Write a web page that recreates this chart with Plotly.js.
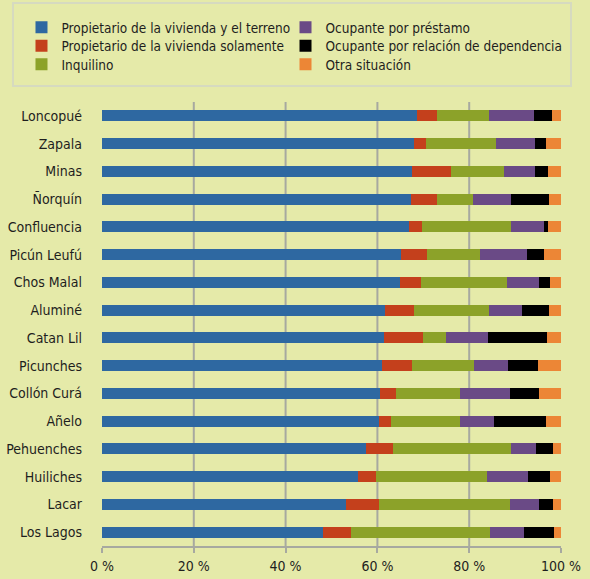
<!DOCTYPE html>
<html>
<head>
<meta charset="utf-8">
<script src="https://cdn.plot.ly/plotly-3.0.1.min.js"></script>
<style>
  html, body { margin: 0; padding: 0; background: #e5eaa9; }
  #chart { width: 590px; height: 579px; }
</style>
</head>
<body>
<div id="chart"></div>
<script>
// ---- Data (percent of households by tenure, per department) ----
const districts = ["Loncopué", "Zapala", "Minas", "Ñorquín", "Confluencia", "Picún Leufú",
  "Chos Malal", "Aluminé", "Catan Lil", "Picunches", "Collón Curá", "Añelo",
  "Pehuenches", "Huiliches", "Lacar", "Los Lagos"];

const propTerreno   = [68.6, 68.0, 67.5, 67.3, 66.9, 65.1, 65.0, 61.7, 61.4, 60.9, 60.6, 60.3, 57.5, 55.8, 53.1, 48.1];
const propSolamente = [ 4.4,  2.6,  8.5,  5.7,  2.8,  5.8,  4.5,  6.3,  8.5,  6.6,  3.5,  2.7,  5.8,  4.0,  7.2,  6.1];
const inquilino     = [11.4, 15.2, 11.6,  7.8, 19.5, 11.5, 18.8, 16.3,  5.0, 13.6, 13.9, 15.1, 25.8, 24.1, 28.6, 30.3];
const prestamo      = [ 9.8,  8.5,  6.7,  8.2,  7.2, 10.2,  6.9,  7.2,  9.1,  7.4, 10.9,  7.4,  5.5,  9.0,  6.4,  7.4];
const dependencia   = [ 3.8,  2.4,  2.9,  8.4,  0.8,  3.6,  2.3,  5.9, 13.0,  6.4,  6.3, 11.2,  3.7,  4.6,  3.0,  6.6];
const otra          = [ 2.0,  3.3,  2.8,  2.6,  2.8,  3.8,  2.5,  2.6,  3.0,  5.1,  4.8,  3.3,  1.7,  2.5,  1.7,  1.5];

const seriesNames = [
  "Propietario de la vivienda y el terreno",
  "Propietario de la vivienda solamente",
  "Inquilino",
  "Ocupante por préstamo",
  "Ocupante por relación de dependencia",
  "Otra situación"
];

const tickVals   = [0, 20, 40, 60, 80, 100];
const tickLabels = ["0 %", "20 %", "40 %", "60 %", "80 %", "100 %"];
const gridVals   = [20, 40, 60, 80];

// ---- Styling ----
const colors = ["#2e68a1", "#c4401c", "#8ca229", "#6a4a86", "#000000", "#ec8636"];
const legendIds = ["legend", "legend2", "legend3", "legend4", "legend5", "legend6"];
const legendX = [-0.1754, -0.1754, -0.1754, 0.3998, 0.3998, 0.3998];
const legendY = [1.1678, 1.1261, 1.0845, 1.1678, 1.1261, 1.0845];
const FONT = '"DejaVu Sans Condensed", "Liberation Sans Narrow", sans-serif';
const FS = 14;
const BG = "#e5eaa9";
const GRID = "#a7a9a0";
const TXT = "#1e1e1e";

const seriesValues = [propTerreno, propSolamente, inquilino, prestamo, dependencia, otra];

const traces = seriesValues.map((vals, i) => ({
  type: "bar",
  orientation: "h",
  name: seriesNames[i],
  x: vals,
  y: districts,
  width: 0.4,
  marker: { color: colors[i], line: { width: 0 } },
  legend: legendIds[i],
  hoverinfo: "name+x"
}));

const layout = {
  width: 590,
  height: 579,
  paper_bgcolor: BG,
  plot_bgcolor: BG,
  margin: { l: 102, r: 29, t: 102, b: 33 },
  barmode: "stack",
  font: { family: FONT, size: FS, color: TXT },
  showlegend: true,
  xaxis: {
    range: [0, 100],
    tickvals: tickVals,
    ticktext: tickLabels,
    showgrid: false,
    zeroline: false,
    showline: true,
    linecolor: GRID,
    linewidth: 2,
    ticks: "outside",
    ticklen: 5,
    tickwidth: 2,
    tickcolor: GRID,
    ticklabelstandoff: 1,
    tickfont: { family: FONT, size: FS, color: TXT },
    fixedrange: true
  },
  yaxis: {
    type: "category",
    categoryorder: "array",
    categoryarray: districts,
    autorange: "reversed",
    showgrid: false,
    zeroline: false,
    showline: false,
    ticks: "",
    ticklabelstandoff: 19,
    tickfont: { family: FONT, size: FS, color: TXT },
    fixedrange: true
  },
  shapes: gridVals.map(v => ({
    type: "line", xref: "x", yref: "paper",
    x0: v, x1: v, y0: 0, y1: 1,
    line: { color: GRID, width: 2 },
    layer: "below"
  })).concat([{
    type: "rect", xref: "paper", yref: "paper",
    x0: -0.194, x1: 1.0218, y0: 1.036, y1: 1.223,
    line: { color: "#d6dac0", width: 2 },
    fillcolor: "rgba(0,0,0,0)",
    layer: "below"
  }])
};

legendIds.forEach((id, i) => {
  layout[id] = {
    orientation: "v",
    bgcolor: "rgba(0,0,0,0)",
    borderwidth: 0,
    font: { family: FONT, size: 13.5, color: TXT },
    xanchor: "left",
    yanchor: "middle",
    x: legendX[i],
    y: legendY[i]
  };
});

Plotly.newPlot("chart", traces, layout, { displayModeBar: false, staticPlot: true });
</script>
</body>
</html>
